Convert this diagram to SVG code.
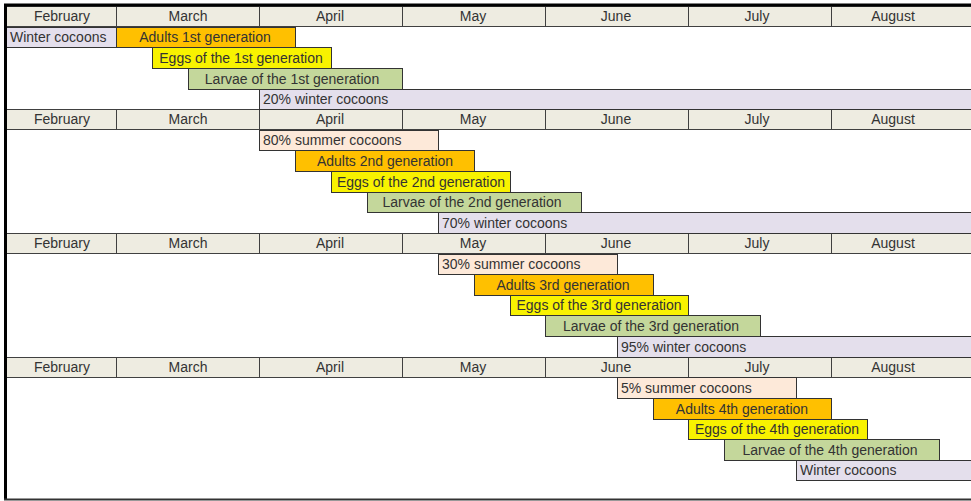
<svg xmlns="http://www.w3.org/2000/svg" width="971" height="501" viewBox="0 0 971 501">
<style>
text{font-family:"Liberation Sans",Arial,sans-serif;font-size:14px;fill:#333}
.hc{fill:#EEECE1;stroke:#404040;stroke-width:1}
.ht{text-anchor:middle}
.bar rect{stroke:#333;stroke-width:1}
.c{text-anchor:middle}
.lav{fill:#E4DFEC}
.pch{fill:#FDE9D9}
.org{fill:#FFC000}
.yel{fill:#F8F200}
.grn{fill:#C4D79B}
</style>
<rect x="0" y="0" width="971" height="501" fill="#fff"/>
<g id="header1" transform="translate(0,6)">
<rect class="hc" x="6.5" y="0.5" width="110" height="20"/><rect class="hc" x="116.5" y="0.5" width="143" height="20"/><rect class="hc" x="259.5" y="0.5" width="143" height="20"/><rect class="hc" x="402.5" y="0.5" width="143" height="20"/><rect class="hc" x="545.5" y="0.5" width="143" height="20"/><rect class="hc" x="688.5" y="0.5" width="143" height="20"/><rect class="hc" x="831.5" y="0.5" width="145" height="20"/>
<text class="ht" x="62" y="15">February</text><text class="ht" x="188" y="15">March</text><text class="ht" x="330" y="15">April</text><text class="ht" x="473" y="15">May</text><text class="ht" x="616" y="15">June</text><text class="ht" x="757" y="15">July</text><text class="ht" x="893" y="15">August</text>
</g>
<g id="header2" transform="translate(0,109)">
<rect class="hc" x="6.5" y="0.5" width="110" height="20"/><rect class="hc" x="116.5" y="0.5" width="143" height="20"/><rect class="hc" x="259.5" y="0.5" width="143" height="20"/><rect class="hc" x="402.5" y="0.5" width="143" height="20"/><rect class="hc" x="545.5" y="0.5" width="143" height="20"/><rect class="hc" x="688.5" y="0.5" width="143" height="20"/><rect class="hc" x="831.5" y="0.5" width="145" height="20"/>
<text class="ht" x="62" y="15">February</text><text class="ht" x="188" y="15">March</text><text class="ht" x="330" y="15">April</text><text class="ht" x="473" y="15">May</text><text class="ht" x="616" y="15">June</text><text class="ht" x="757" y="15">July</text><text class="ht" x="893" y="15">August</text>
</g>
<g id="header3" transform="translate(0,233)">
<rect class="hc" x="6.5" y="0.5" width="110" height="20"/><rect class="hc" x="116.5" y="0.5" width="143" height="20"/><rect class="hc" x="259.5" y="0.5" width="143" height="20"/><rect class="hc" x="402.5" y="0.5" width="143" height="20"/><rect class="hc" x="545.5" y="0.5" width="143" height="20"/><rect class="hc" x="688.5" y="0.5" width="143" height="20"/><rect class="hc" x="831.5" y="0.5" width="145" height="20"/>
<text class="ht" x="62" y="15">February</text><text class="ht" x="188" y="15">March</text><text class="ht" x="330" y="15">April</text><text class="ht" x="473" y="15">May</text><text class="ht" x="616" y="15">June</text><text class="ht" x="757" y="15">July</text><text class="ht" x="893" y="15">August</text>
</g>
<g id="header4" transform="translate(0,357)">
<rect class="hc" x="6.5" y="0.5" width="110" height="20"/><rect class="hc" x="116.5" y="0.5" width="143" height="20"/><rect class="hc" x="259.5" y="0.5" width="143" height="20"/><rect class="hc" x="402.5" y="0.5" width="143" height="20"/><rect class="hc" x="545.5" y="0.5" width="143" height="20"/><rect class="hc" x="688.5" y="0.5" width="143" height="20"/><rect class="hc" x="831.5" y="0.5" width="145" height="20"/>
<text class="ht" x="62" y="15">February</text><text class="ht" x="188" y="15">March</text><text class="ht" x="330" y="15">April</text><text class="ht" x="473" y="15">May</text><text class="ht" x="616" y="15">June</text><text class="ht" x="757" y="15">July</text><text class="ht" x="893" y="15">August</text>
</g>

<g id="winter-cocoons-0" class="bar"><rect class="lav" x="6.5" y="27.5" width="110" height="20"/><text x="10" y="42">Winter cocoons</text></g>
<g id="adults-1" class="bar"><rect class="org" x="116.5" y="27.5" width="179" height="20"/><text class="c" x="205" y="42">Adults 1st generation</text></g>
<g id="eggs-1" class="bar"><rect class="yel" x="152.5" y="47.5" width="179" height="21"/><text class="c" x="241" y="63">Eggs of the 1st generation</text></g>
<g id="larvae-1" class="bar"><rect class="grn" x="188.5" y="68.5" width="214" height="21"/><text class="c" x="292" y="84">Larvae of the 1st generation</text></g>
<g id="winter-20" class="bar"><rect class="lav" x="259.5" y="89.5" width="713" height="20"/><text x="263" y="104">20% winter cocoons</text></g>

<g id="summer-80" class="bar"><rect class="pch" x="259.5" y="130.5" width="179" height="20"/><text x="263" y="145">80% summer cocoons</text></g>
<g id="adults-2" class="bar"><rect class="org" x="295.5" y="150.5" width="179" height="21"/><text class="c" x="385" y="166">Adults 2nd generation</text></g>
<g id="eggs-2" class="bar"><rect class="yel" x="331.5" y="171.5" width="179" height="21"/><text class="c" x="421" y="187">Eggs of the 2nd generation</text></g>
<g id="larvae-2" class="bar"><rect class="grn" x="367.5" y="192.5" width="214" height="20"/><text class="c" x="472" y="207">Larvae of the 2nd generation</text></g>
<g id="winter-70" class="bar"><rect class="lav" x="438.5" y="212.5" width="534" height="21"/><text x="442" y="228">70% winter cocoons</text></g>

<g id="summer-30" class="bar"><rect class="pch" x="438.5" y="254.5" width="179" height="20"/><text x="442" y="269">30% summer cocoons</text></g>
<g id="adults-3" class="bar"><rect class="org" x="474.5" y="274.5" width="179" height="21"/><text class="c" x="563" y="290">Adults 3rd generation</text></g>
<g id="eggs-3" class="bar"><rect class="yel" x="510.5" y="295.5" width="178" height="20"/><text class="c" x="599" y="310">Eggs of the 3rd generation</text></g>
<g id="larvae-3" class="bar"><rect class="grn" x="545.5" y="315.5" width="215" height="21"/><text class="c" x="651" y="331">Larvae of the 3rd generation</text></g>
<g id="winter-95" class="bar"><rect class="lav" x="617.5" y="336.5" width="355" height="21"/><text x="621" y="352">95% winter cocoons</text></g>

<g id="summer-5" class="bar"><rect class="pch" x="617.5" y="377.5" width="179" height="21"/><text x="621" y="393">5% summer cocoons</text></g>
<g id="adults-4" class="bar"><rect class="org" x="653.5" y="398.5" width="178" height="21"/><text class="c" x="742" y="414">Adults 4th generation</text></g>
<g id="eggs-4" class="bar"><rect class="yel" x="688.5" y="419.5" width="179" height="20"/><text class="c" x="777" y="434">Eggs of the 4th generation</text></g>
<g id="larvae-4" class="bar"><rect class="grn" x="724.5" y="439.5" width="215" height="21"/><text class="c" x="830" y="455">Larvae of the 4th generation</text></g>
<g id="winter-cocoons-4" class="bar"><rect class="lav" x="796.5" y="460.5" width="176" height="20"/><text x="800" y="475">Winter cocoons</text></g>

<g id="connectors"/>
<g id="frame">
<line x1="4" y1="5" x2="971" y2="5" stroke="#000" stroke-width="3"/>
<line x1="5.5" y1="4" x2="5.5" y2="500" stroke="#000" stroke-width="3"/>
<line x1="4" y1="499.5" x2="971" y2="499.5" stroke="#333" stroke-width="2"/>
</g>
</svg>
